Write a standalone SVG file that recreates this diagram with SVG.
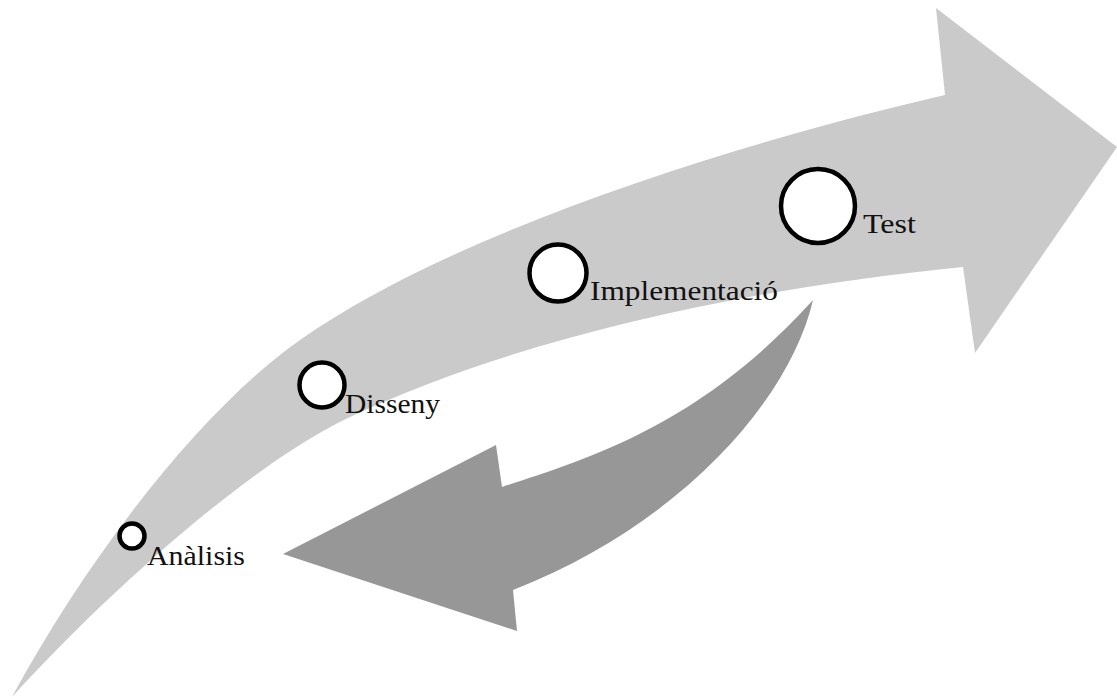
<svg xmlns="http://www.w3.org/2000/svg" width="1117" height="699" viewBox="0 0 1117 699">
  <style>
    .big { fill: #cacaca; stroke: none; }
    .back { fill: #979797; stroke: none; }
    .dot { fill: #ffffff; stroke: #000000; stroke-width: 4.5; }
    .lbl { font-family: "Liberation Serif", "DejaVu Serif", serif; font-size: 28px; fill: #111111; }
  </style>
  <rect x="0" y="0" width="1117" height="699" fill="#ffffff"/>
  <g id="connectors">
    <path class="big" d="M12,697 C88,557 200,410 300,340 C460,228 750,140 945,95 L936,8 L1117,147 L975,353 L963,267 C713,292 500,346.5 350,417 C240,469 91,610 12,697 Z"/>
    <path class="back" d="M813,300 C700,425 590,458 502,487 L496,445 L283,554 L517,631 L513,590 C680,525 790,400 813,300 Z"/>
  </g>
  <g id="node-analisis">
    <circle class="dot" cx="132" cy="536" r="12.5"/>
    <text class="lbl" x="147" y="565" textLength="98" lengthAdjust="spacingAndGlyphs">Anàlisis</text>
  </g>
  <g id="node-disseny">
    <circle class="dot" cx="322" cy="385" r="22.5"/>
    <text class="lbl" x="345" y="413" textLength="95" lengthAdjust="spacingAndGlyphs">Disseny</text>
  </g>
  <g id="node-implementacio">
    <circle class="dot" cx="558" cy="273" r="28.5"/>
    <text class="lbl" x="590" y="300" textLength="188" lengthAdjust="spacingAndGlyphs">Implementació</text>
  </g>
  <g id="node-test">
    <circle class="dot" cx="818" cy="206" r="37"/>
    <text class="lbl" x="863" y="233" textLength="53" lengthAdjust="spacingAndGlyphs">Test</text>
  </g>
</svg>
